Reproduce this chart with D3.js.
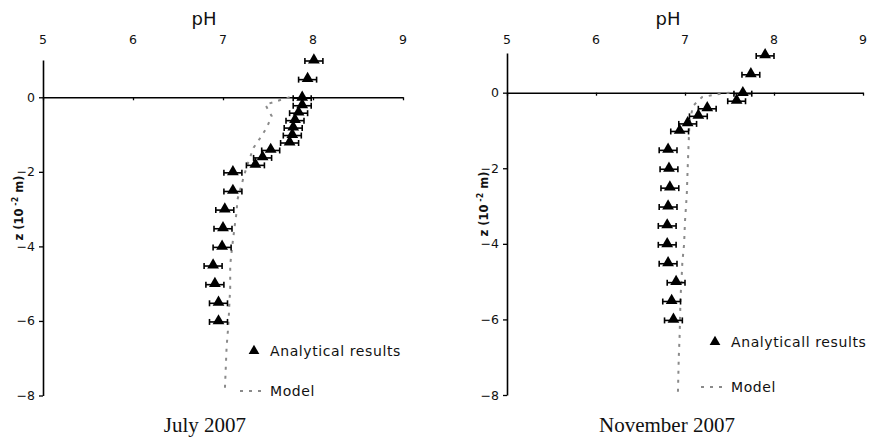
<!DOCTYPE html>
<html><head><meta charset="utf-8">
<script src="https://cdn.jsdelivr.net/npm/d3@7"></script>
<style>body{margin:0;background:#fff}svg{display:block}</style>
</head><body>
<svg id="c" width="873" height="440"></svg>
<script>
// ---- data ----
const xTicks = [5, 6, 7, 8, 9];
const yTicks = [0, -2, -4, -6, -8];

const julyDepth = [1.0, 0.5, 0.0, -0.2, -0.4, -0.6, -0.8, -1.0, -1.2, -1.4, -1.6, -1.8, -2.0, -2.5, -3.0, -3.5, -4.0, -4.5, -5.0, -5.5, -6.0];
const julyPH    = [8.01, 7.94, 7.88, 7.88, 7.84, 7.80, 7.78, 7.77, 7.74, 7.53, 7.44, 7.36, 7.11, 7.11, 7.02, 7.00, 6.99, 6.89, 6.91, 6.95, 6.95];
const julyErr   = [0.1, 0.1, 0.1, 0.1, 0.1, 0.1, 0.1, 0.1, 0.1, 0.1, 0.1, 0.1, 0.1, 0.1, 0.1, 0.1, 0.1, 0.1, 0.1, 0.1, 0.1];
const julyModelDepth = [0.0, -0.1, -0.2, -0.5, -0.8, -1.07, -1.35, -1.75, -2.05, -2.4, -2.75, -3.1, -3.45, -4.05, -4.5, -5.1, -6.1, -6.7, -7.3, -7.9];
const julyModelPH    = [7.74, 7.60, 7.47, 7.54, 7.49, 7.42, 7.34, 7.28, 7.24, 7.20, 7.16, 7.15, 7.13, 7.10, 7.08, 7.08, 7.06, 7.04, 7.03, 7.02];

const novDepth = [1.0, 0.5, 0.0, -0.2, -0.4, -0.6, -0.8, -1.0, -1.5, -2.0, -2.5, -3.0, -3.5, -4.0, -4.5, -5.0, -5.5, -6.0];
const novPH    = [7.90, 7.74, 7.65, 7.58, 7.25, 7.15, 7.03, 6.94, 6.81, 6.82, 6.83, 6.81, 6.80, 6.80, 6.81, 6.90, 6.85, 6.87];
const novErr   = [0.1, 0.1, 0.1, 0.1, 0.1, 0.1, 0.1, 0.1, 0.1, 0.1, 0.1, 0.1, 0.1, 0.1, 0.1, 0.1, 0.1, 0.1];
const novModelDepth = [0.0, -0.05, -0.12, -0.35, -0.8, -1.4, -2.0, -2.7, -3.4, -4.0, -4.5, -5.0, -5.4, -6.4, -7.0, -8.0];
const novModelPH    = [7.50, 7.34, 7.19, 7.09, 7.05, 7.04, 7.03, 7.02, 7.00, 6.99, 6.97, 6.96, 6.95, 6.94, 6.93, 6.92];

const panels = [
  {title: "July 2007", legend: "Analytical results", depth: julyDepth, ph: julyPH, err: julyErr,
   mDepth: julyModelDepth, mPH: julyModelPH,
   xr: [43, 403], yd: [-8, 1], yr: [395.5, 60], titleX: 205, pHx: 204, ylabX: 19, ylabY: 208,
   legX: 254, legY1: 351, legY2: 391},
  {title: "November 2007", legend: "Analyticall results", depth: novDepth, ph: novPH, err: novErr,
   mDepth: novModelDepth, mPH: novModelPH,
   xr: [507, 863], yd: [-8, 1.05], yr: [395, 53], titleX: 667, pHx: 668, ylabX: 484, ylabY: 204,
   legX: 715, legY1: 342, legY2: 387}
];

const svg = d3.select("#c");
const sans = "DejaVu Sans, Verdana, sans-serif";

panels.forEach(p => {
  const x = d3.scaleLinear().domain([5, 9]).range(p.xr);
  const y = d3.scaleLinear().domain(p.yd).range(p.yr);
  const g = svg.append("g");

  // y axis (left, ticks outward)
  const yAxis = d3.axisLeft(y).tickValues(yTicks).tickSize(4).tickSizeOuter(0).tickPadding(4)
      .tickFormat(d3.format("d"));
  const ya = g.append("g").attr("transform", `translate(${p.xr[0]},0)`).call(yAxis);
  ya.select(".domain").attr("stroke", "#000").attr("stroke-width", 1.6);
  ya.selectAll(".tick line").attr("stroke", "#000").attr("stroke-width", 1.3);
  ya.selectAll(".tick text").attr("font-family", sans).attr("font-size", 12.5).attr("fill", "#111");

  // x axis line at z = 0 with small downward ticks
  const xAxis = d3.axisBottom(x).tickValues(xTicks).tickSize(3).tickSizeOuter(0).tickFormat("");
  const xa = g.append("g").attr("transform", `translate(0,${y(0)})`).call(xAxis);
  xa.select(".domain").attr("stroke", "#000").attr("stroke-width", 1.6);
  xa.selectAll(".tick line").attr("stroke", "#000").attr("stroke-width", 1.3);

  // x tick labels at top
  g.selectAll(".xl").data(xTicks).enter().append("text")
    .attr("x", d => x(d)).attr("y", 44).attr("text-anchor", "middle")
    .attr("font-family", sans).attr("font-size", 12.5).attr("fill", "#111").text(d => d);

  // pH title
  g.append("text").attr("x", p.pHx).attr("y", 25).attr("text-anchor", "middle")
    .attr("font-family", sans).attr("font-size", 18).attr("fill", "#111").text("pH");

  // y title
  const yt = g.append("text").attr("transform", `translate(${p.ylabX},${p.ylabY}) rotate(-90)`)
    .attr("text-anchor", "middle").attr("dominant-baseline", "middle")
    .attr("font-family", sans).attr("font-size", 11.5).attr("font-weight", "bold").attr("fill", "#111");
  yt.append("tspan").text("z (10");
  yt.append("tspan").attr("font-size", 8).attr("dy", -4).text(" -2");
  yt.append("tspan").attr("dy", 4).text(" m)");

  // model line
  const mData = p.mDepth.map((d, i) => [p.mPH[i], d]);
  g.append("path").datum(mData)
    .attr("d", d3.line().x(d => x(d[0])).y(d => y(d[1])))
    .attr("fill", "none").attr("stroke", "#8a8a8a").attr("stroke-width", 2)
    .attr("stroke-dasharray", "3,6");

  // points with error bars
  const pts = p.depth.map((d, i) => ({z: d, ph: p.ph[i], e: p.err[i]}));
  const pg = g.selectAll(".pt").data(pts).enter().append("g");
  pg.append("line").attr("x1", d => x(d.ph - d.e)).attr("x2", d => x(d.ph + d.e))
    .attr("y1", d => y(d.z) + 1).attr("y2", d => y(d.z) + 1).attr("stroke", "#000").attr("stroke-width", 1.6);
  pg.append("line").attr("x1", d => x(d.ph - d.e)).attr("x2", d => x(d.ph - d.e))
    .attr("y1", d => y(d.z) - 2).attr("y2", d => y(d.z) + 4).attr("stroke", "#000").attr("stroke-width", 1.6);
  pg.append("line").attr("x1", d => x(d.ph + d.e)).attr("x2", d => x(d.ph + d.e))
    .attr("y1", d => y(d.z) - 2).attr("y2", d => y(d.z) + 4).attr("stroke", "#000").attr("stroke-width", 1.6);
  pg.append("path").attr("d", d3.symbol(d3.symbolTriangle, 60))
    .attr("transform", d => `translate(${x(d.ph)},${y(d.z)})`).attr("fill", "#000");

  // legend
  g.append("path").attr("d", d3.symbol(d3.symbolTriangle, 50))
    .attr("transform", `translate(${p.legX},${p.legY1})`).attr("fill", "#000");
  g.append("text").attr("x", p.legX + 16).attr("y", p.legY1 + 5)
    .attr("font-family", sans).attr("font-size", 14).attr("letter-spacing", 0.6)
    .attr("fill", "#111").text(p.legend);
  g.append("line").attr("x1", p.legX - 14).attr("x2", p.legX + 13)
    .attr("y1", p.legY2).attr("y2", p.legY2)
    .attr("stroke", "#8a8a8a").attr("stroke-width", 2).attr("stroke-dasharray", "3,6");
  g.append("text").attr("x", p.legX + 16).attr("y", p.legY2 + 5)
    .attr("font-family", sans).attr("font-size", 14).attr("letter-spacing", 0.6)
    .attr("fill", "#111").text("Model");

  // bottom title
  g.append("text").attr("x", p.titleX).attr("y", 432).attr("text-anchor", "middle")
    .attr("font-family", "Liberation Serif, Times New Roman, serif").attr("font-size", 21)
    .attr("fill", "#111").text(p.title);
});
</script>
</body></html>
